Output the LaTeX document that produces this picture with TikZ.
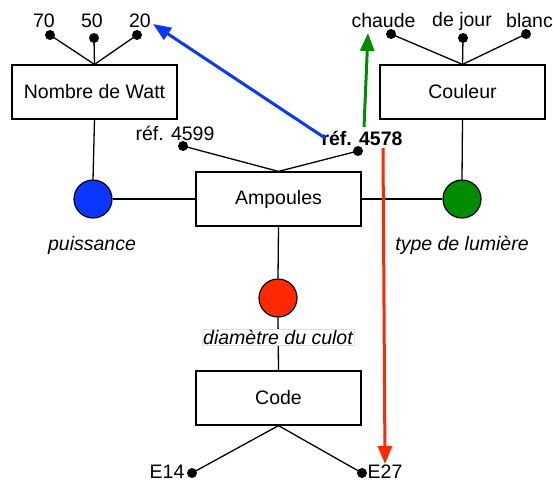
\documentclass[tikz,border=0pt]{standalone}
\usepackage{fontspec}
\setmainfont{Liberation Sans}
\usetikzlibrary{arrows.meta}
\definecolor{myblue}{RGB}{10,55,255}
\definecolor{mygreen}{RGB}{0,140,0}
\definecolor{myred}{RGB}{255,40,0}
\begin{document}
\begin{tikzpicture}[x=1pt,y=-1pt,
  every node/.style={font=\fontsize{19.5}{23}\selectfont},
  box/.style={draw, line width=1.2pt, minimum width=165pt, minimum height=54pt, inner sep=0pt},
  val/.style={inner sep=0pt},
  dotpt/.style={circle, fill=black, inner sep=0pt, minimum size=10pt},
  ball/.style={circle, draw, line width=1.2pt, minimum size=38pt, inner sep=0pt},
  link/.style={line width=1.3pt},
  rolelabel/.style={inner sep=1pt, font=\fontsize{19.5}{23}\selectfont\itshape},
  arr/.style={line width=3pt, -{Triangle[length=18pt,width=14pt]}}
]
\useasboundingbox (0,0) rectangle (553,483);

% boxes
\node[box] (watt) at (94.5,92) {Nombre de Watt};
\node[box] (coul) at (462.5,92) {Couleur};
\node[box] (amp) at (278.5,199) {Ampoules};
\node[box] (code) at (278.5,398) {Code};

% balls
\node[ball, fill=myblue] (bp) at (93,199) {};
\node[ball, fill=mygreen] (bg) at (462,199) {};
\node[ball, fill=myred] (br) at (278,298) {};

% role labels
\node[rolelabel] (lp) at (92,245) {puissance};
\node[rolelabel] (lt) at (462,245) {type de lumière};

% value dots
\node[dotpt] (d70) at (50,35) {};
\node[dotpt] (d50) at (94,38) {};
\node[dotpt] (d20) at (137,35) {};
\node[dotpt] (dch) at (391,34) {};
\node[dotpt] (djo) at (463,38) {};
\node[dotpt] (dbl) at (526,34) {};
\node[dotpt] (d4599) at (183,146) {};
\node[dotpt] (d4578) at (358,151) {};
\node[dotpt] (d14) at (192,473) {};
\node[dotpt] (d27) at (362,473) {};

% value labels
\node[val] (t70) at (44,21) {70};
\node[val] (t50) at (92,21) {50};
\node[val] (t20) at (140,21) {20};
\node[val] (tch) at (383.5,21) {chaude};
\node[val] (tjo) at (462,21) {de jour};
\node[val] (tbl) at (529.5,21) {blanc};
\node[val] (t4599) at (175,133) {réf. 4599};
\node[val, font=\fontsize{19.5}{23}\selectfont\bfseries] (t4578) at (362,138) {réf. 4578};
\node[val] (t14) at (167,472) {E14};
\node[val] (t27) at (385,472) {E27};

% links
\draw[link] (watt.south) -- (bp.north);
\draw[link] (bp.east) -- (amp.west);
\draw[link] (amp.east) -- (bg.west);
\draw[link] (bg.north) -- (coul.south);
\draw[link] (amp.south) -- (br.north);
\draw[link] (br.south) -- (code.north);
\node[rolelabel, fill=white, draw=black!12, line width=0.4pt] (ld) at (278,337) {diamètre du culot};

\foreach \d in {d70,d50,d20} \draw[link] (\d.center) -- (watt.north);
\foreach \d in {dch,djo,dbl} \draw[link] (\d.center) -- (coul.north);
\foreach \d in {d4599,d4578} \draw[link] (\d.center) -- (amp.north);
\foreach \d in {d14,d27} \draw[link] (\d.center) -- (code.south);

% coloured arrows
\coordinate (bs) at (325,138);
\coordinate (be) at (153,24);
\coordinate (gs) at (364,127);
\coordinate (ge) at (368,33);
\coordinate (rs) at (383,148);
\coordinate (re) at (385,464);
\draw[arr, myblue] (bs) -- (be);
\draw[arr, mygreen] (gs) -- (ge);
\draw[arr, myred] (rs) -- (re);
\end{tikzpicture}
\end{document}
